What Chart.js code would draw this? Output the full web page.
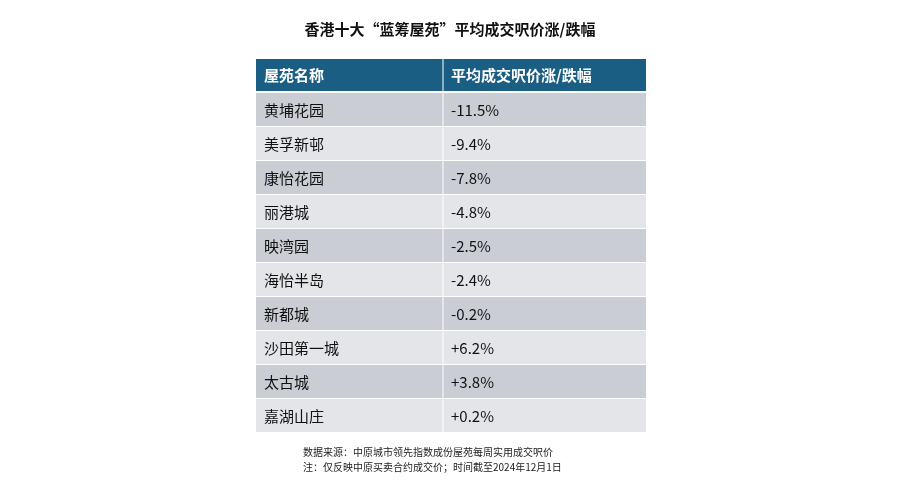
<!DOCTYPE html>
<html><head><meta charset="utf-8">
<script src="https://cdn.jsdelivr.net/npm/chart.js@4"></script>
<style>html,body{margin:0;background:#fff}#wrap{width:900px;height:492px}</style>
</head><body><div id="wrap"><canvas id="tbl"></canvas></div>
<script>
// table data
const estates = ['黄埔花园', '美孚新邨', '康怡花园', '丽港城', '映湾园', '海怡半岛', '新都城', '沙田第一城', '太古城', '嘉湖山庄'];
const changes = [-11.5, -9.4, -7.8, -4.8, -2.5, -2.4, -0.2, 6.2, 3.8, 0.2];
const headers = ['屋苑名称', '平均成交呎价涨/跌幅'];
const titleText = '香港十大“蓝筹屋苑”平均成交呎价涨/跌幅';
const notes = ['数据来源：中原城市领先指数成份屋苑每周实用成交呎价', '注：仅反映中原买卖合约成交价；时间截至2024年12月1日'];

const FONT = '"Noto Sans CJK SC", "Liberation Sans", sans-serif';
const fmt = v => (v > 0 ? '+' : v < 0 ? '-' : '') + Math.abs(v).toFixed(1) + '%';

const tablePlugin = {
    id: 'tablePlugin',
    beforeDraw(chart) {
        const ctx = chart.ctx, y = chart.scales.y, a = chart.chartArea;
        const band = y.height / estates.length;
        ctx.save();
        // header
        ctx.fillStyle = '#1b5e84';
        ctx.fillRect(a.left, a.top - 33, a.width, 32);
        estates.forEach((e, i) => {
            const c = y.getPixelForValue(i);
            ctx.fillStyle = i % 2 === 0 ? '#cacdd4' : '#e3e5e9';
            ctx.fillRect(a.left, c - band / 2 + 1, a.width, band - 1);
        });
        ctx.restore();
    },
    afterDraw(chart) {
        const ctx = chart.ctx, y = chart.scales.y, a = chart.chartArea;
        const colX = a.left + 187;
        ctx.save();
        // column divider
        ctx.strokeStyle = '#ffffff';
        ctx.lineWidth = 1;
        ctx.beginPath();
        ctx.moveTo(colX, a.top - 33);
        ctx.lineTo(colX, a.bottom);
        ctx.stroke();
        ctx.textBaseline = 'middle';
        ctx.textAlign = 'center';
        ctx.fillStyle = '#111';
        ctx.font = 'bold 15px ' + FONT;
        ctx.fillText(titleText, 450, 29);
        ctx.textAlign = 'left';
        ctx.fillStyle = '#fff';
        ctx.font = 'bold 15px ' + FONT;
        ctx.fillText(headers[0], a.left + 8, a.top - 17);
        ctx.fillText(headers[1], colX + 8, a.top - 17);
        ctx.fillStyle = '#111';
        ctx.font = '15px ' + FONT;
        estates.forEach((e, i) => {
            const c = y.getPixelForValue(i);
            ctx.fillText(e, a.left + 8, c + 1);
            ctx.fillText(fmt(changes[i]), colX + 8, c + 1);
        });
        ctx.font = '10px ' + FONT;
        ctx.fillStyle = '#222';
        ctx.fillText(notes[0], 303, 452);
        ctx.fillText(notes[1], 303, 467);
        ctx.restore();
    }
};

new Chart(document.getElementById('tbl').getContext('2d'), {
    type: 'bar',
    data: {
        labels: estates,
        datasets: [{ data: changes, backgroundColor: 'rgba(0,0,0,0)' }]
    },
    options: {
        indexAxis: 'y',
        responsive: true,
        maintainAspectRatio: false,
        animation: false,
        layout: { padding: { left: 256, right: 254, top: 92, bottom: 60 } },
        plugins: { legend: { display: false }, tooltip: { enabled: false } },
        scales: {
            x: { display: false },
            y: { display: false }
        }
    },
    plugins: [tablePlugin]
});
</script>
</body></html>
